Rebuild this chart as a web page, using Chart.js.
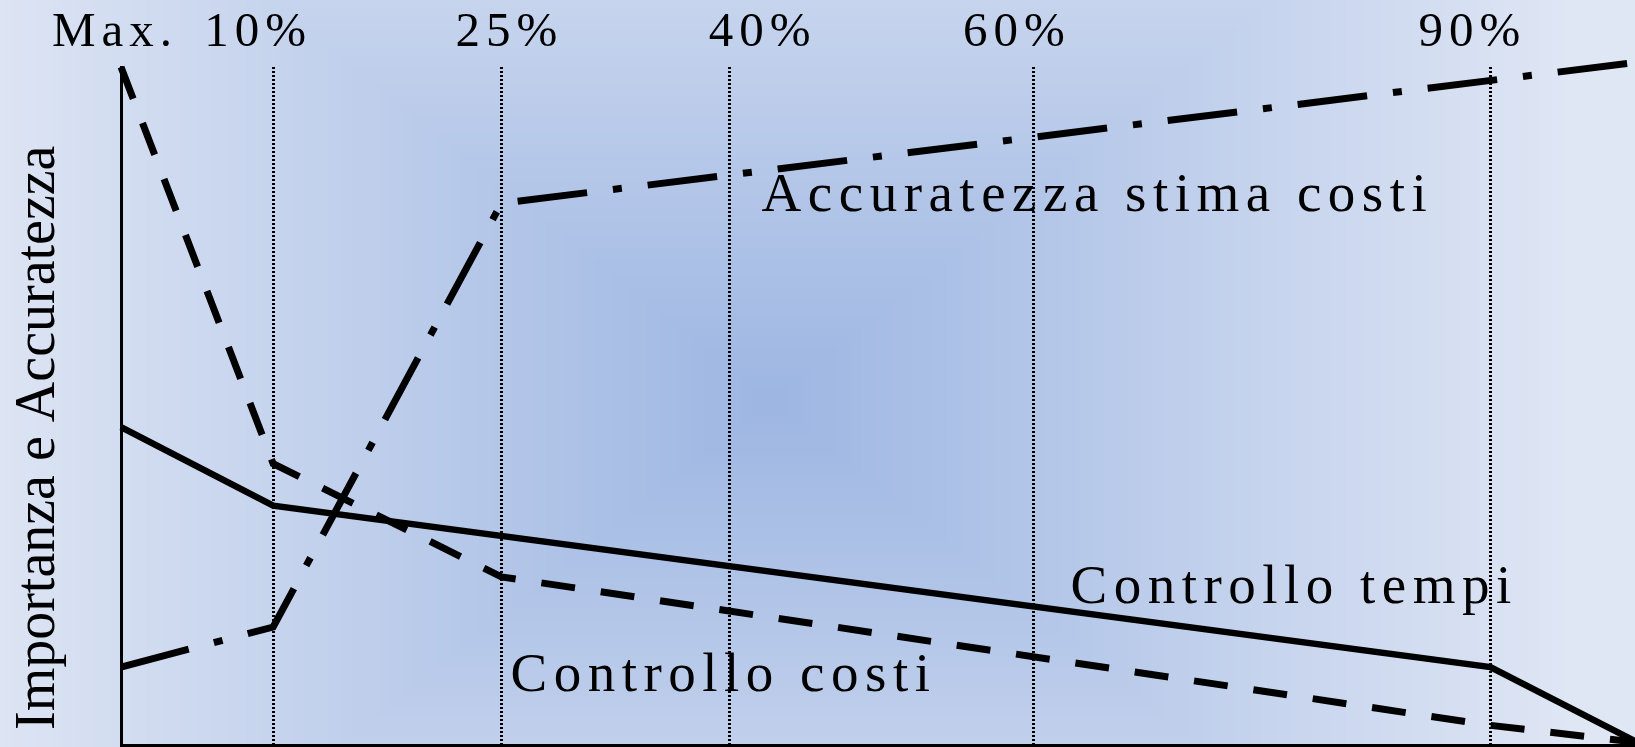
<!DOCTYPE html>
<html lang="it">
<head>
<meta charset="utf-8">
<title>Importanza e Accuratezza</title>
<script src="https://cdn.jsdelivr.net/npm/chart.js@4.4.1/dist/chart.umd.min.js"></script>
<style>
  html, body { margin: 0; padding: 0; background: #dfe6f4; }
  #wrap { width: 1635px; height: 747px; position: relative; }
</style>
</head>
<body>
<div id="wrap"><canvas id="curveChart"></canvas></div>
<script>
// stages of the project (percent of completion), dotted guides
const stagePct = [10, 25, 40, 60, 90];
const stageLabels = ['Max.', '10%', '25%', '40%', '60%', '90%'];
const stageLabelAt = [0, 10, 25, 40, 60, 90];

// Controllo tempi
const tempiX = [0, 10, 90, 100];
const tempiY = [46.9, 35.3, 11.5, 0];

// Controllo costi
const costiX = [0, 10, 25, 90, 100];
const costiY = [100, 41.5, 24.8, 2.9, 0.3];

// Accuratezza stima costi
const stimaX = [0, 10, 25, 100];
const stimaY = [11.5, 17.4, 79.9, 100.8];

const toPoints = (xs, ys) => xs.map((x, i) => ({ x: x, y: ys[i] }));

const serif = "'Liberation Serif', 'Times New Roman', serif";

// rectangular "from centre" blue fill behind everything
const slideBackground = {
    id: 'slideBackground',
    beforeDraw(chart) {
        const { ctx, width, height } = chart;
        if (!this.tile || this.tile.width !== width || this.tile.height !== height) {
            const off = document.createElement('canvas');
            off.width = width;
            off.height = height;
            const octx = off.getContext('2d');
            const img = octx.createImageData(width, height);
            const inner = [157, 182, 226], outer = [223, 230, 244];
            const cx = 770, cy = 400, ax = 800, ay = 640;
            for (let y = 0; y < height; y++) {
                for (let x = 0; x < width; x++) {
                    const t = Math.min(1, Math.max(Math.abs(x - cx) / ax, Math.abs(y - cy) / ay));
                    const k = (y * width + x) * 4;
                    img.data[k] = inner[0] + (outer[0] - inner[0]) * t;
                    img.data[k + 1] = inner[1] + (outer[1] - inner[1]) * t;
                    img.data[k + 2] = inner[2] + (outer[2] - inner[2]) * t;
                    img.data[k + 3] = 255;
                }
            }
            octx.putImageData(img, 0, 0);
            this.tile = off;
        }
        ctx.drawImage(this.tile, 0, 0);
    }
};

// stage labels on top, axis title and curve names
const chartTexts = {
    id: 'chartTexts',
    afterDraw(chart, args, opts) {
        const { ctx, scales: { x, y } } = chart;
        ctx.save();
        ctx.fillStyle = '#000';
        ctx.textBaseline = 'alphabetic';

        // top row
        ctx.font = '49px ' + serif;
        ctx.letterSpacing = '6px';
        ctx.textAlign = 'center';
        stageLabels.forEach((txt, i) => {
            ctx.fillText(txt, x.getPixelForValue(stageLabelAt[i]) + opts.topNudge[i], 46);
        });

        // curve names
        ctx.font = '55px ' + serif;
        ctx.letterSpacing = '6.5px';
        ctx.textAlign = 'left';
        opts.names.forEach(n => {
            ctx.fillText(n.text, x.getPixelForValue(n.x), y.getPixelForValue(n.y));
        });

        // vertical axis title
        ctx.letterSpacing = '0px';
        ctx.font = '56px ' + serif;
        ctx.translate(53.5, 730);
        ctx.rotate(-Math.PI / 2);
        ctx.fillText('Importanza e Accuratezza', 0, 0);
        ctx.restore();
    }
};

const ctx = document.getElementById('curveChart').getContext('2d');
const curveChart = new Chart(ctx, {
    type: 'line',
    data: {
        datasets: [{
            label: 'Accuratezza stima costi',
            data: toPoints(stimaX, stimaY),
            borderColor: '#000',
            borderWidth: 7,
            borderDash: [70, 26, 9, 26],
            pointRadius: 0,
            clip: false
        }, {
            label: 'Controllo costi',
            data: toPoints(costiX, costiY),
            borderColor: '#000',
            borderWidth: 7,
            borderDash: [34, 26],
            pointRadius: 0,
            clip: false
        }, {
            label: 'Controllo tempi',
            data: toPoints(tempiX, tempiY),
            borderColor: '#000',
            borderWidth: 6.5,
            pointRadius: 0,
            clip: false
        }]
    },
    options: {
        responsive: true,
        maintainAspectRatio: false,
        animation: false,
        layout: { padding: { top: 67, left: 10, right: 0, bottom: 2 } },
        elements: { line: { tension: 0 } },
        scales: {
            x: {
                type: 'linear',
                min: 0,
                max: 99.5,   // the last half percent runs off the right edge
                afterBuildTicks: scale => { scale.ticks = stagePct.map(v => ({ value: v })); },
                ticks: { display: false },
                grid: { color: '#000', lineWidth: 3, drawTicks: false },
                border: { color: '#000', width: 3, dash: [2, 2] }
            },
            y: {
                min: 0,
                max: 100,
                afterFit: scale => { scale.width = 111; },
                ticks: { display: false },
                grid: { display: false, drawTicks: false },
                border: { color: '#000', width: 3 }
            }
        },
        plugins: {
            legend: { display: false },
            tooltip: { enabled: false },
            chartTexts: {
                topNudge: [-6, -15, 8, 33, -17, -18],
                names: [
                    { text: 'Accuratezza stima costi', x: 42.1, y: 78.7 },
                    { text: 'Controllo costi', x: 25.6, y: 7.9 },
                    { text: 'Controllo tempi', x: 62.4, y: 20.9 }
                ]
            }
        }
    },
    plugins: [slideBackground, chartTexts]
});
</script>
</body>
</html>
